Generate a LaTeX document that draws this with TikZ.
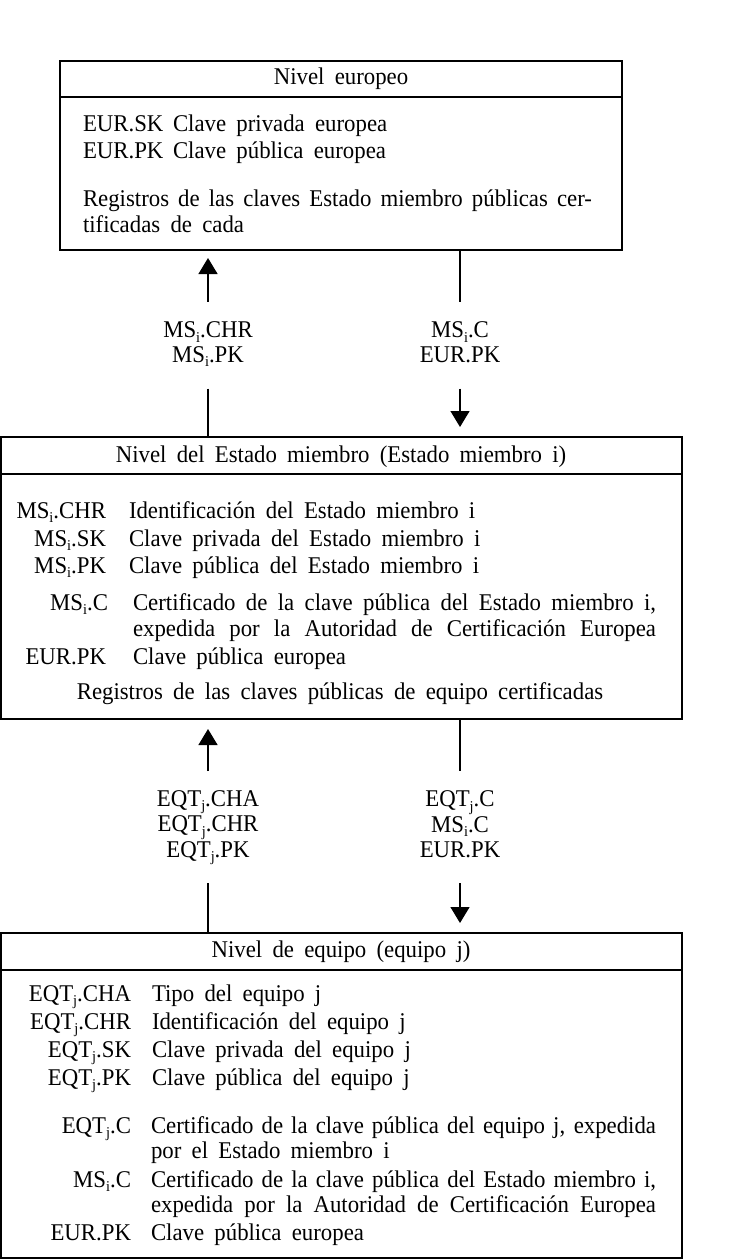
\documentclass[tikz,border=0pt]{standalone}
\usepackage{fontspec}
\setmainfont{Liberation Serif}[FakeStretch=0.95,WordSpace=1.8]
\usetikzlibrary{arrows.meta}
\newcommand\ix[1]{\raisebox{-0.4ex}{\fontsize{15}{15}\selectfont #1}}
\newcommand\jline[2]{\makebox[#1pt][s]{#2}}
\tikzset{
  box/.style={draw, line width=2.2pt, rectangle, outer sep=0pt, inner sep=0pt, anchor=north west},
  hline/.style={line width=2.2pt},
  conn/.style={line width=1.3pt},
  arr/.style={line width=1.3pt, -{Triangle[width=19pt,length=16pt]}},
  txt/.style={inner sep=0pt, outer sep=0pt, font=\fontsize{24}{27}\selectfont},
  lbl/.style={txt, anchor=base east},
  dsc/.style={txt, anchor=base west},
  ctr/.style={txt, anchor=base},
  stack/.style={inner sep=0pt, outer sep=0pt, align=center, font=\fontsize{24}{24.5}\selectfont}
}
\begin{document}
\begin{tikzpicture}[x=1pt,y=-1pt]
\useasboundingbox (0,0) rectangle (741,1260);
% ---------- box 1
\node[box, minimum width=562pt, minimum height=189pt] (b1) at (60,61) {};
\draw[hline] (60,97) -- (622,97);
\node[ctr] (b1h) at (341,85) {Nivel europeo};
\node[dsc] (b1a) at (83,132) {EUR.SK};
\node[dsc] (b1at) at (173,132) {Clave privada europea};
\node[dsc] (b1b) at (83,159) {EUR.PK};
\node[dsc] (b1bt) at (173,159) {Clave pública europea};
\node[dsc] (b1c) at (83,207) {\jline{509}{Registros de las claves Estado miembro públicas cer-}};
\node[dsc] (b1d) at (83,233) {tificadas de cada};
% ---------- box 2
\node[box, minimum width=681pt, minimum height=282pt] (b2) at (1,437) {};
\draw[hline] (1,474) -- (682,474);
\node[ctr] (b2h) at (341,462) {Nivel del Estado miembro (Estado miembro i)};
\node[lbl] (b2l1) at (106,518) {MS\ix{i}.CHR};
\node[dsc] (b2d1) at (129,518) {Identificación del Estado miembro i};
\node[lbl] (b2l2) at (106,546) {MS\ix{i}.SK};
\node[dsc] (b2d2) at (129,546) {Clave privada del Estado miembro i};
\node[lbl] (b2l3) at (106,573) {MS\ix{i}.PK};
\node[dsc] (b2d3) at (129,573) {Clave pública del Estado miembro i};
\node[lbl] (b2l4) at (108,610) {MS\ix{i}.C};
\node[dsc] (b2d4) at (133,610) {\jline{523}{Certificado de la clave pública del Estado miembro i,}};
\node[dsc] (b2d5) at (133,636) {\jline{523}{expedida por la Autoridad de Certificación Europea}};
\node[lbl] (b2l6) at (106,664) {EUR.PK};
\node[dsc] (b2d6) at (133,664) {Clave pública europea};
\node[ctr] (b2f) at (340,699) {Registros de las claves públicas de equipo certificadas};
% ---------- box 3
\node[box, minimum width=681pt, minimum height=325pt] (b3) at (1,933) {};
\draw[hline] (1,970) -- (682,970);
\node[ctr] (b3h) at (341,957) {Nivel de equipo (equipo j)};
\node[lbl] (b3l1) at (131,1001) {EQT\ix{j}.CHA};
\node[dsc] (b3d1) at (152,1001) {Tipo del equipo j};
\node[lbl] (b3l2) at (131,1029) {EQT\ix{j}.CHR};
\node[dsc] (b3d2) at (152,1029) {Identificación del equipo j};
\node[lbl] (b3l3) at (131,1057) {EQT\ix{j}.SK};
\node[dsc] (b3d3) at (152,1057) {Clave privada del equipo j};
\node[lbl] (b3l4) at (131,1085) {EQT\ix{j}.PK};
\node[dsc] (b3d4) at (152,1085) {Clave pública del equipo j};
\node[lbl] (b3l5) at (131,1133) {EQT\ix{j}.C};
\node[dsc] (b3d5) at (151,1133) {\jline{505}{Certificado de la clave pública del equipo j, expedida}};
\node[dsc] (b3d5b) at (151,1158) {por el Estado miembro i};
\node[lbl] (b3l6) at (131,1187) {MS\ix{i}.C};
\node[dsc] (b3d6) at (151,1187) {\jline{505}{Certificado de la clave pública del Estado miembro i,}};
\node[dsc] (b3d6b) at (151,1212) {\jline{505}{expedida por la Autoridad de Certificación Europea}};
\node[lbl] (b3l7) at (131,1240) {EUR.PK};
\node[dsc] (b3d7) at (151,1240) {Clave pública europea};
% ---------- connectors between box 1 and box 2
\node[stack, minimum height=87pt] (l1) at (208,345) {\strut MS\ix{i}.CHR\\\strut MS\ix{i}.PK};
\node[stack, minimum height=87pt] (r1) at (460,345) {\strut MS\ix{i}.C\\\strut EUR.PK};
\draw[arr] (l1.north) -- ([yshift=-8pt]b1.south -| l1.north);
\draw[conn] (l1.south) -- (l1.south |- b2.north);
\draw[conn] (b1.south -| r1.north) -- (r1.north);
\draw[arr] (r1.south) -- ([yshift=10pt]b2.north -| r1.south);
% ---------- connectors between box 2 and box 3
\node[stack, minimum height=112pt] (l2) at (208,827) {\strut EQT\ix{j}.CHA\\\strut EQT\ix{j}.CHR\\\strut EQT\ix{j}.PK};
\node[stack, minimum height=112pt] (r2) at (460,827) {\strut EQT\ix{j}.C\\\strut MS\ix{i}.C\\\strut EUR.PK};
\draw[arr] (l2.north) -- ([yshift=-10pt]b2.south -| l2.north);
\draw[conn] (l2.south) -- (l2.south |- b3.north);
\draw[conn] (b2.south -| r2.north) -- (r2.north);
\draw[arr] (r2.south) -- ([yshift=10pt]b3.north -| r2.south);
\end{tikzpicture}
\end{document}
